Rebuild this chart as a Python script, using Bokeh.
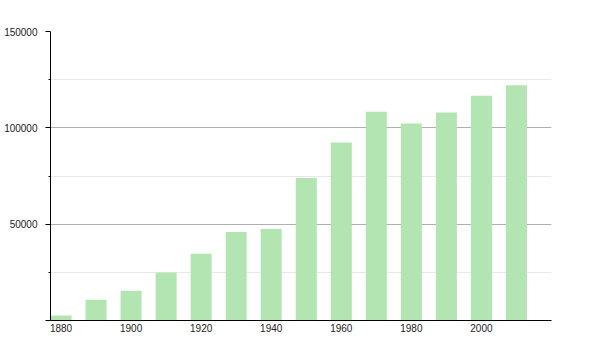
from bokeh.plotting import figure
from bokeh.models import FixedTicker, Range1d, ColumnDataSource, NumeralTickFormatter
from bokeh.embed import file_html
from bokeh.resources import INLINE

years = [1880, 1890, 1900, 1910, 1920, 1930, 1940, 1950, 1960, 1970, 1980, 1990, 2000, 2010]
population = [2600, 10800, 15500, 24900, 34700, 45900, 47500, 74000, 92400, 108400, 102200, 108000, 116600, 122100]
x_ticks = [1880, 1900, 1920, 1940, 1960, 1980, 2000]
y_ticks = [0, 50000, 100000, 150000]
y_minor = [25000, 75000, 125000]

src = ColumnDataSource(dict(x=years, top=population))

p = figure(width=600, height=350, output_backend="svg", toolbar_location=None,
           x_range=Range1d(1877, 2020), y_range=Range1d(0, 150000),
           min_border_left=50, min_border_right=49, min_border_top=31, min_border_bottom=30)
p.outline_line_color = None
p.background_fill_color = "white"
p.border_fill_color = "white"

p.vbar(x="x", top="top", width=6, bottom=0, source=src,
       fill_color="#b3e5b3", line_color=None)

p.xgrid.grid_line_color = None
p.ygrid.ticker = FixedTicker(ticks=y_ticks, minor_ticks=y_minor)
p.ygrid.grid_line_color = "#b0b0b0"
p.ygrid.minor_grid_line_color = "#e8e8e8"

xa = p.xaxis[0]
xa.ticker = FixedTicker(ticks=x_ticks)
xa.axis_line_color = "black"
xa.major_tick_out = 0
xa.major_tick_in = 0
xa.minor_tick_out = 0
xa.minor_tick_in = 0
xa.major_label_standoff = 3
xa.major_label_text_font = "Liberation Sans"
xa.major_label_text_font_size = "10px"
xa.major_label_text_color = "#222222"

ya = p.yaxis[0]
ya.ticker = FixedTicker(ticks=y_ticks, minor_ticks=y_minor)
ya.formatter = NumeralTickFormatter(format="0")
ya.axis_line_color = "black"
ya.major_tick_out = 5
ya.major_tick_in = 0
ya.minor_tick_out = 2
ya.minor_tick_in = 0
ya.major_tick_line_color = "black"
ya.minor_tick_line_color = "black"
ya.major_label_overrides = {0: ""}
ya.major_label_standoff = 8
ya.major_label_text_font = "Liberation Sans"
ya.major_label_text_font_size = "10px"
ya.major_label_text_color = "#222222"

open("out.html", "w").write(file_html(p, INLINE))
